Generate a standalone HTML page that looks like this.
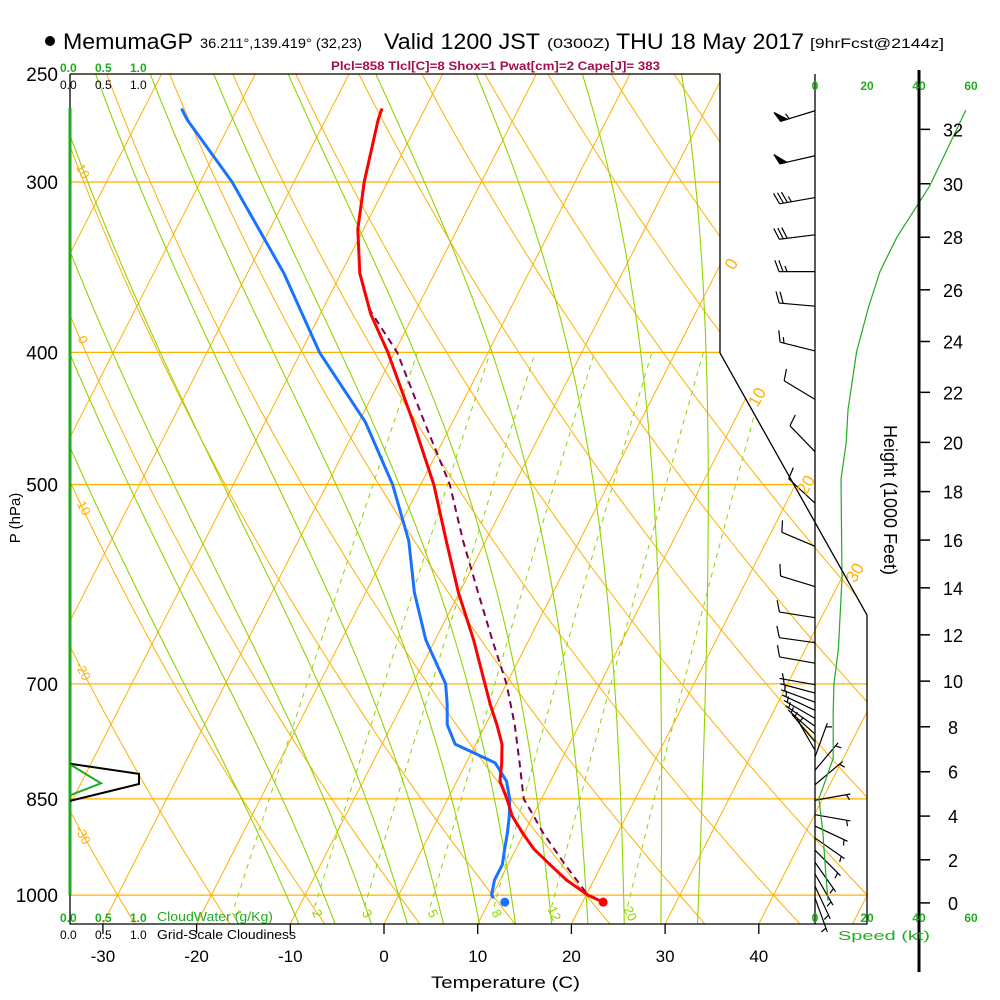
<!DOCTYPE html>
<html><head><meta charset="utf-8"><title>Skew-T MemumaGP</title>
<style>
html,body{margin:0;padding:0;background:#fff;}
svg{display:block;font-family:"Liberation Sans",Arial,sans-serif;}
</style></head>
<body>
<svg id="chart" width="1000" height="1000" viewBox="0 0 1000 1000" xmlns="http://www.w3.org/2000/svg">
<defs><clipPath id="plotclip"><polygon points="70,74 720,74 720,353 867,615 867,924 70,924"/></clipPath></defs>
<g id="bg-lines" clip-path="url(#plotclip)"></g>
<g id="profiles" clip-path="url(#plotclip)"></g>
<g id="wind"></g>
<g id="frame">
  <polyline points="70,74 720,74 720,353 867,615 867,924 70,924 70,74" fill="none" stroke="#000" stroke-width="1.3"/>
  <line x1="815" y1="74" x2="815" y2="924" stroke="#000" stroke-width="1.3"/>
  <line x1="70" y1="108" x2="70" y2="895" stroke="#22aa22" stroke-width="3"/>
  <line x1="919" y1="70" x2="919" y2="972" stroke="#000" stroke-width="3"/>
</g>
<g id="labels"></g>
<g id="header">
  <circle cx="50" cy="41" r="5" fill="#000"/>
  <text x="63" y="49" font-size="22" textLength="130" lengthAdjust="spacingAndGlyphs">MemumaGP</text>
  <text x="200" y="48" font-size="14" textLength="162" lengthAdjust="spacingAndGlyphs">36.211°,139.419° (32,23)</text>
  <text x="384" y="49" font-size="22" textLength="156" lengthAdjust="spacingAndGlyphs">Valid 1200 JST</text>
  <text x="547" y="48" font-size="14" textLength="63" lengthAdjust="spacingAndGlyphs">(0300Z)</text>
  <text x="616" y="49" font-size="22" textLength="188" lengthAdjust="spacingAndGlyphs">THU 18 May 2017</text>
  <text x="810" y="48" font-size="14" textLength="134" lengthAdjust="spacingAndGlyphs">[9hrFcst@2144z]</text>
  <text x="331" y="70" font-size="12" font-weight="bold" fill="#a0104a" textLength="329" lengthAdjust="spacingAndGlyphs">Plcl=858 Tlcl[C]=8 Shox=1 Pwat[cm]=2 Cape[J]= 383</text>
</g>
<script>
// ---------- DATA ----------
const profP    = [1012,1000,975,950,925,900,875,850,825,800,775,750,725,700,650,600,550,500,450,400,375,350,325,300,270,265];
const tempC    = [22.2,20.2,17.1,14.5,11.9,9.8,7.8,6.3,4.6,3.8,2.8,1.2,-0.6,-2.3,-5.9,-10.1,-14.2,-18.6,-24.2,-30.7,-34.6,-38.0,-40.6,-42.5,-44.4,-44.6];
const dewP     = [1005,1000,975,950,925,900,875,850,825,800,775,750,725,700,650,600,550,500,450,400,350,300,270,265];
const dewC     = [10.3,9.9,9.4,9.4,8.8,8.2,7.5,6.6,5.3,3.1,-2.2,-4.1,-5.2,-6.5,-11.0,-14.8,-18.2,-23.0,-29.3,-38.0,-46.1,-56.6,-64.8,-66.0];
const parcelP  = [1005,1000,950,900,875,850,800,750,700,650,600,550,500,450,400,370];
const parcelC  = [21.2,20.2,16.1,12.0,10.1,8.1,5.7,3.1,0.0,-3.9,-8.0,-12.4,-16.9,-23.0,-29.7,-35.4];
const sfcP = 1012, sfcT = 22.2, sfcTd = 11.7;
const windP    = [266,287,308,328,349,370,399,433,473,516,555,594,626,653,676,701,711,722,732,742,752,762,772,783,792,810,830,852,873,890,908,927,946,965,985,1005];
const windDir  = [253,257,260,263,270,275,284,301,316,313,293,287,279,278,280,280,285,290,295,300,305,312,320,330,20,40,50,80,100,115,125,135,145,150,155,160];
const windSpd  = [55,50,35,30,25,20,15,10,10,10,10,10,10,10,8,7,7,7,7,7,7,7,5,5,5,5,5,5,5,5,5,5,5,5,5,5];
const spdHt    = [0.1,1.6,3.3,4.8,5.6,6.6,8.7,9.9,11.4,14.4,18.5,20,21.3,23.6,25.3,26.7,28,29.9,30.9,32.7];
const spdKt    = [5,4,3,1.5,4,7,7,7.3,9,10.4,10,12,12.7,16,20.5,25,31.5,44,49,58];
const cloudP   = [801,815,829,853];
const cloudFrac= [0,1,1,0];
const cwP      = [802,828,845];
const cwVal    = [0,0.45,0];
const xTicks   = [-30,-20,-10,0,10,20,30,40];
const pLevels  = [250,300,400,500,700,850,1000];
const isotherms= [-80,-70,-60,-50,-40,-30,-20,-10,0,10,20,30,40,50];
const isoLabels= [0,10,20,30];
const dryAdiab = [-40,-30,-20,-10,0,10,20,30,40,50,60,70,80,90,100,110,120];
const dryLabels= [10,0,-10,-20,-30];
const moistThw = [-12,-8,-4,0,4,8,12,16,20,24,28,32];
const mixRatio = [1,2,3,5,8,12,20];
const htTicks  = [0,2,4,6,8,10,12,14,16,18,20,22,24,26,28,30,32];
const spdTicks = [0,20,40,60];

// ---------- SCALES ----------
function Y(p){return 74+592.3*Math.log(p/250);}
function X(t,p){return 384+9.37*t+0.51*(924-Y(p));}
function SX(kt){return 815+2.6*kt;}
function htToP(kft){return 1013.25*Math.pow(1-0.0000068756*kft*1000,5.2559);}
const NS='http://www.w3.org/2000/svg';
function mk(tag,attrs,parent){const e=document.createElementNS(NS,tag);for(const k in attrs)e.setAttribute(k,attrs[k]);parent.appendChild(e);return e;}
function pts(arr){return arr.map(a=>a[0].toFixed(1)+','+a[1].toFixed(1)).join(' ');}
const bg=document.getElementById('bg-lines'),pr=document.getElementById('profiles'),wd=document.getElementById('wind'),lb=document.getElementById('labels');
const ORANGE='#ffb000',YG='#8fd400';

pLevels.forEach(p=>{const l=mk('line',{x1:70,x2:870,y1:Y(p),y2:Y(p),stroke:ORANGE,'stroke-width':1.3},bg);


const t=mk('text',{x:58,y:Y(p)+7,'font-size':19,'text-anchor':'end'},lb);t.textContent=p;

});
isotherms.forEach(T=>{const l=mk('line',{x1:X(T,1060),y1:Y(1060),x2:X(T,240),y2:Y(240),stroke:ORANGE,'stroke-width':1},bg);

});
function dryT(th,p){return (th+273.15)*Math.pow(p/1000,0.2857)-273.15;}
dryAdiab.forEach(th=>{const a=[];for(let p=1060;p>=240;p-=10)a.push([X(dryT(th,p),p),Y(p)]);
const l=mk('polyline',{points:pts(a),fill:'none',stroke:ORANGE,'stroke-width':1},bg);

});
function es(T){return 6.112*Math.exp(17.67*T/(T+243.5));}
function ws(T,p){const e=es(T);return 0.622*e/(p-e);}
function dTdp(T,p){const Tk=T+273.15,r=ws(T,p),Lv=2.5e6,Rd=287,cp=1005;return (Rd*Tk+Lv*r)/(p*(cp+Lv*Lv*r*0.622/(Rd*Tk*Tk)));}
moistThw.forEach(tw=>{const up=[];let T=tw;for(let p=1000;p>=250;p-=5){up.push([X(T,p),Y(p)]);T-=dTdp(T,p)*5;}
T=tw;const dn=[];for(let p=1000;p<=1060;p+=5){dn.unshift([X(T,p),Y(p)]);T+=dTdp(T,p)*5;}
const l=mk('polyline',{points:pts(dn.concat(up)),fill:'none',stroke:YG,'stroke-width':1.1},bg);

});
function tFromW(w,p){const e=w/1000*p/(0.622+w/1000);const l=Math.log(e/6.112);return 243.5*l/(17.67-l);}
mixRatio.forEach(w=>{const a=[];for(let p=1020;p>=400;p-=10)a.push([X(tFromW(w,p),p),Y(p)]);
const l=mk('polyline',{points:pts(a),fill:'none',stroke:YG,'stroke-width':1,'stroke-dasharray':'5,5'},bg);


const x=X(tFromW(w,1028),1028),y=Y(1028)+4;
const t=mk('text',{x:x,y:y,'font-size':13,fill:YG,'text-anchor':'middle',transform:'rotate(65 '+x+' '+y+')'},lb);t.textContent=w;

});
isoLabels.forEach(T=>{let best=null;for(let p=1050;p>=250;p-=1){const x=X(T,p),y=Y(p);let xb=y<=353?720:(y<=615?720+(y-353)*147/262:867);if(x>=xb){best=[x,y];break;}}
if(best){const x=best[0]+16,y=best[1]+2;const t=mk('text',{x:x,y:y,'font-size':17,fill:ORANGE,'text-anchor':'middle',transform:'rotate(-60 '+x+' '+y+')'},lb);t.textContent=T;

}});
dryLabels.forEach(th=>{let y0=null;for(let p=250;p<=1050;p+=1){if(X(dryT(th,p),p)>=70){y0=Y(p);break;}}
if(y0!==null){const x=79,y=y0+26;const t=mk('text',{x:x,y:y,'font-size':13,fill:ORANGE,'text-anchor':'middle',transform:'rotate(62 '+x+' '+y+')'},lb);t.textContent=th;

}});

function line(P,V,attrs,name){const a=P.map((p,i)=>[X(V[i],p),Y(p)]);const l=mk('polyline',Object.assign({points:pts(a),fill:'none'},attrs),pr);

}
line(dewP,dewC,{stroke:'#1a73ff','stroke-width':3,'stroke-linejoin':'round'},'dewpoint-line');
line(parcelP,parcelC,{stroke:'#800050','stroke-width':2,'stroke-dasharray':'7,5'},'parcel-line');
line(profP,tempC,{stroke:'#ff0000','stroke-width':3,'stroke-linejoin':'round'},'temperature-line');
const d1=mk('circle',{cx:X(sfcTd,sfcP),cy:Y(sfcP),r:4.5,fill:'#1a73ff'},pr);


const d2=mk('circle',{cx:X(sfcT,sfcP),cy:Y(sfcP),r:4.5,fill:'#ff0000'},pr);



const cl=mk('polyline',{points:pts(cloudP.map((p,i)=>[70+69*cloudFrac[i],Y(p)])),fill:'none',stroke:'#000','stroke-width':2},lb);


const cw=mk('polyline',{points:pts(cwP.map((p,i)=>[70+69*cwVal[i],Y(p)])),fill:'none',stroke:'#22aa22','stroke-width':2},lb);



windP.forEach((p,i)=>{const g=mk('g',{stroke:'#000','stroke-width':1.2,fill:'#000'},wd);


const y0=Y(p),x0=815,L=36,r=windDir[i]*Math.PI/180;const ux=Math.sin(r),uy=-Math.cos(r);
mk('line',{x1:x0,y1:y0,x2:x0+ux*L,y2:y0+uy*L},g);
const a=70*Math.PI/180,fx=ux*Math.cos(a)-uy*Math.sin(a),fy=ux*Math.sin(a)+uy*Math.cos(a);
let s=Math.round(windSpd[i]/5)*5,pos=L;
while(s>=50){const bx=x0+ux*pos,by=y0+uy*pos,cx=x0+ux*(pos-7),cy=y0+uy*(pos-7);mk('polygon',{points:pts([[bx,by],[bx+fx*11,by+fy*11],[cx,cy]])},g);pos-=9;s-=50;}
while(s>=10){const bx=x0+ux*pos,by=y0+uy*pos;mk('line',{x1:bx,y1:by,x2:bx+fx*12,y2:by+fy*12},g);pos-=4;s-=10;}
if(s>=5){if(pos===L)pos-=4;const bx=x0+ux*pos,by=y0+uy*pos;mk('line',{x1:bx,y1:by,x2:bx+fx*6,y2:by+fy*6},g);}
});
const sc=mk('polyline',{points:pts(spdHt.map((h,i)=>[SX(spdKt[i]),Y(htToP(h))])),fill:'none',stroke:'#22aa22','stroke-width':1.2},wd);


spdTicks.forEach(k=>{[90,922].forEach(yy=>{const t=mk('text',{x:SX(k),y:yy,'font-size':12,'font-weight':'bold',fill:'#22aa22','text-anchor':'middle'},lb);t.textContent=k;

});});
htTicks.forEach(h=>{const y=Y(htToP(h));mk('line',{x1:919,x2:930,y1:y,y2:y,stroke:'#000','stroke-width':1.5},lb);
const t=mk('text',{x:953,y:y+7,'font-size':18,'text-anchor':'middle'},lb);t.textContent=h;

});
xTicks.forEach(T=>{const x=384+9.37*T;mk('line',{x1:x,x2:x,y1:924,y2:934,stroke:'#000','stroke-width':1.3},lb);
const t=mk('text',{x:x,y:962,'font-size':17,'text-anchor':'middle'},lb);t.textContent=T;

});
</script>
<g>
  <text x="60" y="72" font-size="12" font-weight="bold" fill="#22aa22">0.0</text>
  <text x="95" y="72" font-size="12" font-weight="bold" fill="#22aa22">0.5</text>
  <text x="130" y="72" font-size="12" font-weight="bold" fill="#22aa22">1.0</text>
  <text x="60" y="89" font-size="12">0.0</text>
  <text x="95" y="89" font-size="12">0.5</text>
  <text x="130" y="89" font-size="12">1.0</text>
  <text x="60" y="922" font-size="12" font-weight="bold" fill="#22aa22">0.0</text>
  <text x="95" y="922" font-size="12" font-weight="bold" fill="#22aa22">0.5</text>
  <text x="130" y="922" font-size="12" font-weight="bold" fill="#22aa22">1.0</text>
  <text x="157" y="921" font-size="13" fill="#22aa22" textLength="116" lengthAdjust="spacingAndGlyphs">CloudWater (g/Kg)</text>
  <text x="60" y="939" font-size="12">0.0</text>
  <text x="95" y="939" font-size="12">0.5</text>
  <text x="130" y="939" font-size="12">1.0</text>
  <text x="157" y="939" font-size="13" textLength="139" lengthAdjust="spacingAndGlyphs">Grid-Scale Cloudiness</text>
  <text x="431" y="988" font-size="17" textLength="149" lengthAdjust="spacingAndGlyphs">Temperature (C)</text>
  <text x="0" y="0" font-size="15" text-anchor="middle" transform="translate(20,518) rotate(-90)">P (hPa)</text>
  <text x="0" y="0" font-size="18" text-anchor="middle" transform="translate(884,500) rotate(90)">Height (1000 Feet)</text>
  <text x="838" y="940" font-size="13" fill="#22aa22" textLength="92" lengthAdjust="spacingAndGlyphs">Speed (kt)</text>
</g>
</svg>
</body></html>
